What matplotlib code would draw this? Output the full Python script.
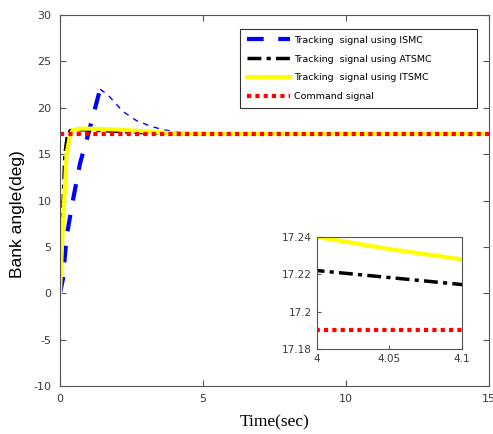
import matplotlib
matplotlib.use("Agg")
import matplotlib.pyplot as plt

plt.rcParams["axes.unicode_minus"] = False

# ---- data ----
t_ismc = [0, 0.1, 0.23, 0.45, 0.7, 1.0, 1.4]
ismc_rise = [0, 1.5, 6.1, 10.0, 14.0, 17.3, 22.0]
t_ismc_dec = [1.4, 1.67, 2.2, 2.68, 3.18, 3.61, 4.13, 4.58, 5.0, 6.0, 7.0, 8.0, 10.0, 15.0]
ismc_dec = [22.0, 21.4, 19.6, 18.6, 18.0, 17.63, 17.38, 17.26, 17.23, 17.2, 17.195, 17.19, 17.19, 17.19]

t_at = [0, 0.1, 0.17, 0.25, 0.35, 0.5, 1.0, 2.0, 3.0, 4.0, 4.1, 5.0, 6.0, 8.0, 15.0]
atsmc = [0, 9.0, 15.0, 16.8, 17.5, 17.65, 17.6, 17.45, 17.3, 17.222, 17.2145, 17.2, 17.195, 17.19, 17.19]

t_it = [0, 0.08, 0.23, 0.35, 0.45, 0.7, 1.0, 2.0, 3.0, 4.0, 4.05, 4.1, 5.0, 6.0, 8.0, 15.0]
itsmc = [0, 6.0, 15.0, 17.0, 17.6, 17.75, 17.75, 17.65, 17.45, 17.24, 17.2335, 17.228, 17.21, 17.2, 17.19, 17.19]

t_cmd = [0, 15]
cmd = [17.19, 17.19]

labels = ["Tracking  signal using ISMC", "Tracking  signal using ATSMC",
          "Tracking  signal using ITSMC", "Command signal"]

fig = plt.figure(figsize=(4.93, 4.34), dpi=100)
ax = fig.add_axes([0.1217, 0.1106, 0.8703, 0.8548])

def draw(a):
    l1, = a.plot(t_ismc, ismc_rise, color="#0000ff", lw=3, dashes=(4, 3.5))
    a.plot(t_ismc_dec, ismc_dec, color="#0000ff", lw=1.0, dashes=(4, 4))
    l2, = a.plot(t_at, atsmc, color="black", lw=2.5, dashes=(4, 1.5, 1.2, 1.5))
    l3, = a.plot(t_it, itsmc, color="#ffff00", lw=3)
    l4, = a.plot(t_cmd, cmd, color="red", lw=3, dashes=(1, 1))
    return [l1, l2, l3, l4]

handles = draw(ax)
ax.set_xlim(0, 15)
ax.set_ylim(-10, 30)
ax.set_xticks([0, 5, 10, 15])
ax.set_yticks(range(-10, 31, 5))
ax.tick_params(direction="in", top=True, right=True, labelsize=8, labelcolor="#3a3a3a",
               color="#555555", length=4, pad=6)
for s in ax.spines.values():
    s.set_color("#555555")
ax.set_xlabel("Time(sec)", family="Liberation Serif", fontsize=12.5, va="center")
ax.xaxis.set_label_coords(0.5, -0.097)
ax.set_ylabel("Bank angle(deg)", family="Liberation Sans", fontsize=12.5, va="center")
ax.yaxis.set_label_coords(-0.098, 0.4636)

leg = ax.legend(handles, labels, loc="upper left",
                bbox_to_anchor=(0.4196, 0.752, 0.5524, 0.2103), mode="expand",
                borderaxespad=0, fontsize=6.8, handlelength=4.6, handletextpad=0.4,
                frameon=True, fancybox=False, edgecolor="black",
                borderpad=0.7, labelspacing=1.05)
leg.get_frame().set_linewidth(0.8)

ins = fig.add_axes([0.643, 0.196, 0.294, 0.258])
draw(ins)
ins.set_xlim(4, 4.1)
ins.set_ylim(17.18, 17.24)
ins.set_xticks([4, 4.05, 4.1])
ins.set_xticklabels(["4", "4.05", "4.1"])
ins.set_yticks([17.18, 17.2, 17.22, 17.24])
ins.set_yticklabels(["17.18", "17.2", "17.22", "17.24"])
ins.tick_params(direction="in", labelsize=7.5, labelcolor="#3a3a3a", color="#555555", length=3)
for s in ins.spines.values():
    s.set_color("#555555")

fig.savefig("out.png", dpi=100)
